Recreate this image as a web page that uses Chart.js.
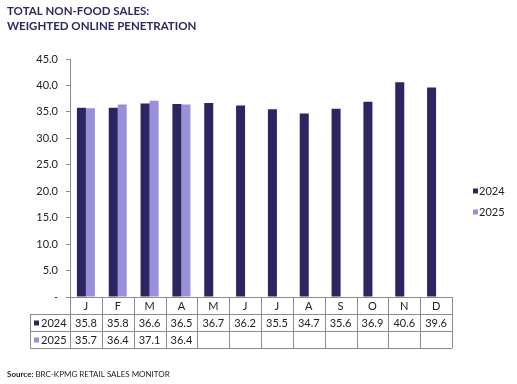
<!DOCTYPE html>
<html>
<head>
<meta charset="utf-8">
<script src="https://cdn.jsdelivr.net/npm/chart.js@4.4.1/dist/chart.umd.min.js"></script>
<style>
  body { margin: 0; background: #fff; }
</style>
</head>
<body>
<canvas id="salesChart" width="517" height="384"></canvas>
<script>
// Chart data
const months = ["J", "F", "M", "A", "M", "J", "J", "A", "S", "O", "N", "D"];
const sales2024 = [35.8, 35.8, 36.6, 36.5, 36.7, 36.2, 35.5, 34.7, 35.6, 36.9, 40.6, 39.6];
const sales2025 = [35.7, 36.4, 37.1, 36.4, null, null, null, null, null, null, null, null];
const yTickValues = [0, 5, 10, 15, 20, 25, 30, 35, 40, 45];
const yTickLabels = ["-", "5.0", "10.0", "15.0", "20.0", "25.0", "30.0", "35.0", "40.0", "45.0"];

const navy = "#2b2561";
const lavender = "#9a90d9";
const lineGrey = "#8c8c8c";
const textColor = "#222222";
const font = "Lato, 'Open Sans', sans-serif";

const seriesList = [
  { label: "2024", data: sales2024, color: navy },
  { label: "2025", data: sales2025, color: lavender },
];

// Title, source, legend and the data table under the axis
const extrasPlugin = {
  id: "extras",
  afterDraw(chart) {
    const { ctx, chartArea } = chart;
    const x = chart.scales.x;
    const colW = (chartArea.right - chartArea.left) / months.length;
    const rowH = 17;
    const top = chartArea.bottom;
    const labelLeft = 30;

    ctx.save();

    // title
    ctx.fillStyle = "#2b2a5e";
    ctx.font = "bold 11.5px " + font;
    ctx.textBaseline = "alphabetic";
    ctx.textAlign = "left";
    ctx.fillText("TOTAL NON-FOOD SALES:", 7, 15);
    ctx.fillText("WEIGHTED ONLINE PENETRATION", 7, 30);

    // source
    ctx.fillStyle = "#222";
    ctx.font = "bold 8px " + font;
    ctx.fillText("Source:", 7, 377);
    const sw = ctx.measureText("Source: ").width;
    ctx.font = "8px " + font;
    ctx.fillText("BRC-KPMG RETAIL SALES MONITOR", 7 + sw, 377);

    // legend on the right
    ctx.font = "11px " + font;
    ctx.textBaseline = "middle";
    seriesList.forEach((s, i) => {
      const ly = 191 + i * 21;
      ctx.fillStyle = s.color;
      ctx.fillRect(473, ly - 2.5, 5, 5);
      ctx.fillStyle = textColor;
      ctx.fillText(s.label, 479, ly);
    });

    // table grid
    ctx.strokeStyle = lineGrey;
    ctx.lineWidth = 1;
    ctx.beginPath();
    ctx.moveTo(chartArea.left, top + 0.5);
    ctx.lineTo(chartArea.right, top + 0.5);
    for (let r = 1; r <= 3; r++) {
      const y = Math.round(top + r * rowH) + 0.5;
      ctx.moveTo(labelLeft, y);
      ctx.lineTo(chartArea.right, y);
    }
    for (let c = 0; c <= months.length; c++) {
      const vx = Math.round(chartArea.left + c * colW) + 0.5;
      ctx.moveTo(vx, top);
      ctx.lineTo(vx, top + 3 * rowH);
    }
    ctx.moveTo(labelLeft + 0.5, top + rowH);
    ctx.lineTo(labelLeft + 0.5, top + 3 * rowH);
    ctx.stroke();

    // table text
    ctx.fillStyle = textColor;
    ctx.font = "11px " + font;
    ctx.textAlign = "center";
    ctx.textBaseline = "middle";
    months.forEach((m, i) => {
      ctx.fillText(m, x.getPixelForValue(i), top + rowH / 2 + 1);
    });
    seriesList.forEach((s, r) => {
      const cy = top + (r + 1) * rowH + rowH / 2 + 1;
      s.data.forEach((v, i) => {
        if (v !== null) ctx.fillText(v.toFixed(1), x.getPixelForValue(i), cy);
      });
      ctx.fillStyle = s.color;
      ctx.fillRect(34, cy - 3, 5, 5);
      ctx.fillStyle = textColor;
      ctx.textAlign = "left";
      ctx.fillText(s.label, 41, cy);
      ctx.textAlign = "center";
    });

    ctx.restore();
  },
};

const ctx = document.getElementById("salesChart");
new Chart(ctx.getContext("2d"), {
  type: "bar",
  data: {
    labels: months,
    datasets: seriesList.map(s => ({
      label: s.label,
      data: s.data,
      backgroundColor: s.color,
      borderWidth: 0,
      barPercentage: 1,
      categoryPercentage: 0.566,
    })),
  },
  options: {
    responsive: false,
    animation: false,
    layout: {
      padding: { left: 0, right: 65, top: 59, bottom: 87 },
    },
    plugins: {
      legend: { display: false },
      tooltip: { enabled: false },
    },
    scales: {
      x: {
        display: false,
      },
      y: {
        min: 0,
        max: 45,
        afterBuildTicks: scale => {
          scale.ticks = yTickValues.map(v => ({ value: v }));
        },
        afterFit: scale => {
          scale.width = 70;
        },
        grid: {
          drawOnChartArea: false,
          drawTicks: true,
          tickLength: 4,
          color: lineGrey,
        },
        border: { display: true, color: lineGrey },
        ticks: {
          padding: 8,
          color: textColor,
          font: { family: font, size: 11 },
          callback: (value, index) => yTickLabels[index],
        },
      },
    },
  },
  plugins: [extrasPlugin],
});
</script>
</body>
</html>
